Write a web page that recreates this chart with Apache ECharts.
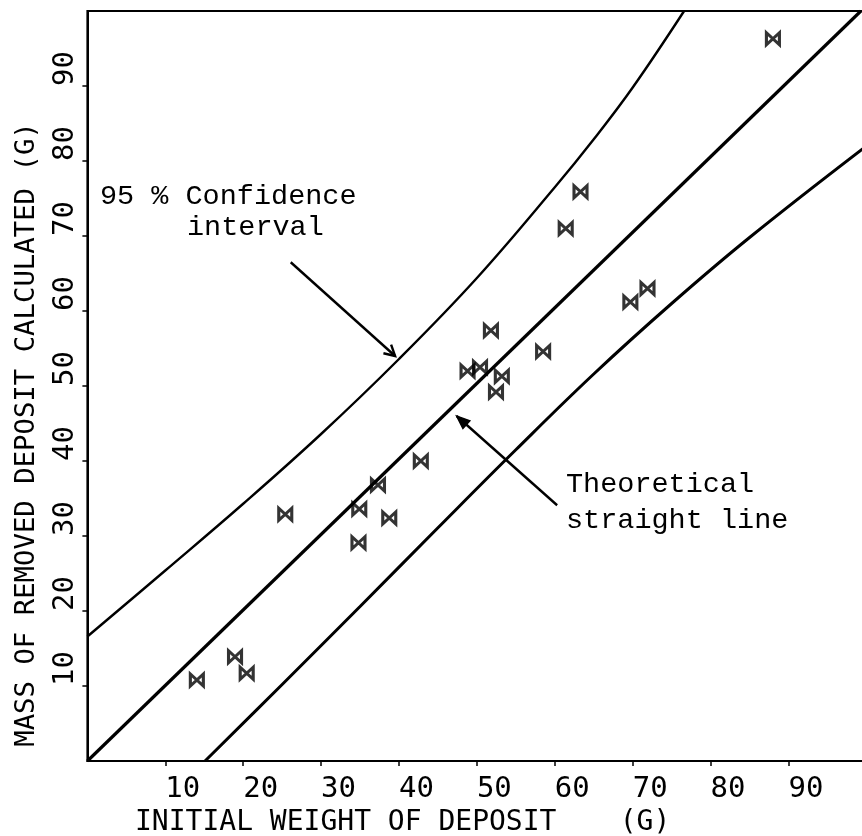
<!DOCTYPE html>
<html><head><meta charset="utf-8">
<script src="https://cdn.jsdelivr.net/npm/echarts@6/dist/echarts.min.js"></script>
<style>html,body{margin:0;padding:0;background:#fff}#c{width:862px;height:836px}</style>
</head><body><div id="c"></div>
<script>
// ---- data ----
const xTicks = [10, 20, 30, 40, 50, 60, 70, 80, 90];
const yTicks = [10, 20, 30, 40, 50, 60, 70, 80, 90];
const pointX = [14.05, 18.95, 20.45, 25.4, 34.8, 34.9, 37.3, 38.75, 42.8, 48.8, 50.4, 51.8, 52.45, 53.2, 58.5, 61.4, 63.3, 69.7, 71.9, 88.0];
const pointY = [10.8, 13.9, 11.7, 32.9, 29.1, 33.6, 36.8, 32.4, 40.0, 52.0, 52.5, 57.4, 49.2, 51.3, 54.6, 71.0, 75.9, 61.2, 63.0, 96.3];
const theoX = [0, 99.3];
const theoY = [0, 100];
const upperX = [0, 10, 20, 30, 40, 50, 60, 65, 70, 76.6];
const upperY = [16.6, 25.4, 34.3, 43.6, 53.6, 64.4, 76.5, 82.9, 89.8, 100];
const lowerX = [15.1, 25, 35, 45, 55, 65, 75, 85, 100];
const lowerY = [0, 10.2, 20.6, 31.1, 41.5, 51.6, 61.0, 69.8, 82.0];
const xTitle = 'INITIAL WEIGHT OF DEPOSIT';
const xUnit = '(G)';
const yTitle = 'MASS OF REMOVED DEPOSIT CALCULATED (G)';
const noteCI = ['95 % Confidence', 'interval'];
const noteTheo = ['Theoretical', 'straight line'];
const arrowCI = [[26.1, 66.5], [39.5, 54.0]];
const arrowTheo = [[60.3, 34.1], [47.4, 46.0]];

const zip = (a, b) => a.map((v, i) => [v, b[i]]);
const chart = echarts.init(document.getElementById('c'), null, {renderer: 'canvas'});
const plotFont = 'DejaVu Sans Mono';
const noteFont = '"Liberation Mono", "Courier New", monospace';
const bowtie = 'path://M0,0 L10,6 L0,12 Z M20,0 L10,6 L20,12 Z';

chart.setOption({
  animation: false,
  backgroundColor: '#fff',
  grid: {left: 87.4, top: 11, width: 779, height: 750, show: true, borderColor: '#000', borderWidth: 2,
         containLabel: false, outerBoundsMode: 'none'},
  xAxis: {
    type: 'value', min: 0, max: 100, interval: 10,
    axisLine: {show: true, lineStyle: {color: '#000', width: 2}},
    axisTick: {show: true, length: 5, customValues: xTicks, lineStyle: {color: '#000', width: 1.5}},
    axisLabel: {customValues: xTicks, align: 'left', verticalAlign: 'top', margin: 14,
                fontFamily: plotFont, fontSize: 29, color: '#000'},
    splitLine: {show: false}
  },
  yAxis: {
    type: 'value', min: 0, max: 100, interval: 10,
    axisLine: {show: true, lineStyle: {color: '#000', width: 2}},
    axisTick: {show: true, length: 5, customValues: yTicks, lineStyle: {color: '#000', width: 1.5}},
    axisLabel: {customValues: yTicks, rotate: 90, align: 'left', verticalAlign: 'middle', margin: 22,
                fontFamily: plotFont, fontSize: 29, color: '#000'},
    splitLine: {show: false}
  },
  series: [
    {type: 'line', data: zip(theoX, theoY), symbol: 'none', lineStyle: {color: '#000', width: 3.2}, z: 2},
    {type: 'line', data: zip(upperX, upperY), symbol: 'none', smooth: 0.4, lineStyle: {color: '#000', width: 2.4}, z: 2},
    {type: 'line', data: zip(lowerX, lowerY), symbol: 'none', smooth: 0.4, lineStyle: {color: '#000', width: 3}, z: 2},
    {type: 'scatter', data: zip(pointX, pointY), symbol: bowtie, symbolSize: [13, 12],
     itemStyle: {color: 'rgba(0,0,0,0)', borderColor: '#000', borderWidth: 3}, z: 3}
  ]
});

function px(p) { return chart.convertToPixel({gridIndex: 0}, p); }
function headPts(tip, tail, len, ang) {
  const dx = tip[0] - tail[0], dy = tip[1] - tail[1], d = Math.hypot(dx, dy);
  const ux = dx / d, uy = dy / d;
  const p = a => [tip[0] - len * (ux * Math.cos(a) - uy * Math.sin(a)),
                  tip[1] - len * (uy * Math.cos(a) + ux * Math.sin(a))];
  return [p(ang), tip, p(-ang)];
}
const a1s = px(arrowCI[0]), a1e = px(arrowCI[1]);
const a2s = px(arrowTheo[0]), a2e = px(arrowTheo[1]);
const txt = (x, y, s, font, size, extra) => Object.assign({type: 'text', x: x, y: y,
  style: {text: s, fontFamily: font, fontSize: size, fill: '#000', align: 'left', verticalAlign: 'middle'}}, extra || {});

chart.setOption({
  graphic: [
    {type: 'line', shape: {x1: a1s[0], y1: a1s[1], x2: a1e[0], y2: a1e[1]}, style: {stroke: '#000', lineWidth: 2.4}},
    {type: 'polyline', shape: {points: headPts(a1e, a1s, 12, 0.5)}, style: {stroke: '#000', lineWidth: 2.4, fill: null}},
    {type: 'line', shape: {x1: a2s[0], y1: a2s[1], x2: a2e[0], y2: a2e[1]}, style: {stroke: '#000', lineWidth: 2.4}},
    {type: 'polygon', shape: {points: headPts(a2e, a2s, 14, 0.38)}, style: {stroke: '#000', lineWidth: 1.5, fill: '#000'}},
    txt(100, 196, noteCI[0], noteFont, 28.5),
    txt(187, 227, noteCI[1], noteFont, 28.5),
    txt(566, 484, noteTheo[0], noteFont, 28.5),
    txt(566, 520, noteTheo[1], noteFont, 28.5),
    txt(135, 823, xTitle, plotFont, 28),
    {type: 'text', x: 645, y: 823, style: {text: xUnit, fontFamily: plotFont, fontSize: 28, fill: '#000', align: 'center', verticalAlign: 'middle'}},
    {type: 'text', x: 26.5, y: 434.5, rotation: Math.PI / 2,
     style: {text: yTitle, fontFamily: plotFont, fontSize: 27.3, fill: '#000', align: 'center', verticalAlign: 'middle'}}
  ]
});
</script></body></html>
